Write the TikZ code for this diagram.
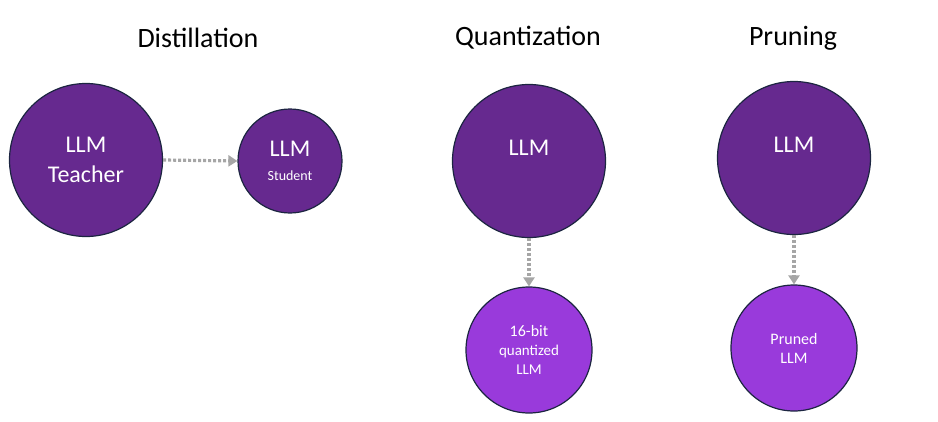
\documentclass[tikz,border=0pt]{standalone}
\usepackage{fontspec}
\setmainfont{Carlito}
\usetikzlibrary{arrows.meta}
\definecolor{llmdark}{HTML}{66298F}
\definecolor{llmlight}{HTML}{993ADB}
\definecolor{llmedge}{HTML}{1C2541}
\definecolor{arrowgray}{HTML}{A6A6A6}
\begin{document}
\begin{tikzpicture}[x=1pt,y=-1pt,
  title/.style={font=\fontsize{28}{34}\selectfont, text=black},
  bigllm/.style={circle, draw=llmedge, line width=1.2pt, fill=llmdark,
    minimum size=153pt, inner sep=0pt, text=white, align=center},
  smallllm/.style={circle, draw=llmedge, line width=1.2pt, fill=llmlight,
    minimum size=126pt, inner sep=0pt, text=white, align=center,
    font=\fontsize{15}{19}\selectfont},
  flow/.style={arrowgray, line width=3.2pt, dash pattern=on 3pt off 2pt,
    -{Triangle[length=9pt,width=11pt]}}]
  \useasboundingbox (0,0) rectangle (938,421);
  % titles
  \node[title] (tdist)  at (198,38) {Distillation};
  \node[title] (tquant) at (528,38) {Quantization};
  \node[title] (tprune) at (793,38) {Pruning};
  % distillation
  \node[bigllm, font=\fontsize{24}{30}\selectfont] (teacher) at (86,160) {LLM\\Teacher};
  \node[bigllm, minimum size=104pt, font=\fontsize{14}{24}\selectfont] (student) at (290,161)
    {{\fontsize{24}{24}\selectfont LLM}\\Student};
  \draw[flow] (teacher.east) -- (student.west);
  % quantization
  \node[bigllm, label={[text=white, yshift=13pt, font=\fontsize{24}{30}\selectfont]center:LLM}] (qllm) at (529,161) {};
  \node[smallllm] (qsmall) at (529,350) {\fontsize{16}{19}\selectfont 16-bit\\quantized\\LLM};
  \draw[flow] (qllm.south) -- (qsmall.north);
  % pruning
  \node[bigllm, label={[text=white, yshift=13pt, font=\fontsize{24}{30}\selectfont]center:LLM}] (pllm) at (794,158) {};
  \node[smallllm, font=\fontsize{16}{19}\selectfont] (psmall) at (794,348) {Pruned\\LLM};
  \draw[flow] (pllm.south) -- (psmall.north);
\end{tikzpicture}
\end{document}
